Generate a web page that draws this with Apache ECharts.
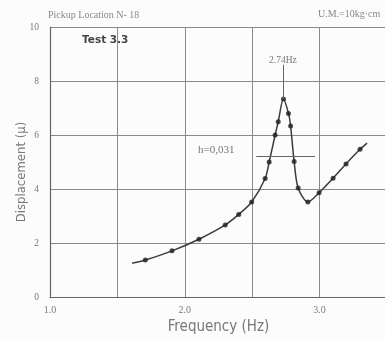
<!DOCTYPE html>
<html>
<head>
<meta charset="utf-8">
<script src="https://cdn.jsdelivr.net/npm/echarts@6/dist/echarts.min.js"></script>
<style>
html,body{margin:0;padding:0;background:#fcfcfc;}
#c{width:385px;height:339px;}
</style>
</head>
<body>
<div id="c"></div>
<script>
// Measured points (frequency Hz, displacement μ)
const freq = [1.707, 1.905, 2.105, 2.30, 2.40, 2.496, 2.596, 2.626, 2.670, 2.693, 2.732, 2.769, 2.785, 2.811, 2.841, 2.913, 2.996, 3.10, 3.196, 3.30];
const disp = [1.37, 1.71, 2.14, 2.67, 3.06, 3.52, 4.39, 5.00, 6.00, 6.49, 7.33, 6.80, 6.33, 5.02, 4.04, 3.52, 3.86, 4.40, 4.93, 5.47];
// Ends of the drawn curve
const curveStart = [1.609, 1.25];
const curveEnd = [3.352, 5.70];
// Annotations
const peakFreq = 2.732, peakVal = 7.33, peakLabelTop = 8.6;
const halfPowerY = 5.2, halfPowerX = [2.53, 2.966];
const yTicks = [0, 2, 4, 6, 8, 10];
const xTickLabels = ['1.0', '2.0', '3.0'];

const pts = freq.map((f, i) => [f, disp[i]]);
const curve = [curveStart].concat(pts, [curveEnd]);

const chart = echarts.init(document.getElementById('c'), null, {renderer: 'canvas'});
const grey = '#7a7a7a';
chart.setOption({
  backgroundColor: '#fcfcfc',
  animation: false,
  grid: {left: 50, top: 27, width: 337, height: 270, outerBoundsMode: 'none', containLabel: false},
  xAxis: {
    type: 'value', min: 1, max: 3.5, interval: 0.5,
    axisLine: {show: true, onZero: false, lineStyle: {color: '#666', width: 1.2}},
    axisTick: {show: false},
    splitLine: {show: true, lineStyle: {color: '#8a8a8a', width: 1}},
    axisLabel: {
      color: grey, fontSize: 10, fontFamily: 'Liberation Serif', margin: 8,
      formatter: v => { const s = v.toFixed(1); return xTickLabels.includes(s) ? s : ''; }
    },
    name: 'Frequency (Hz)', nameLocation: 'middle', nameGap: 23,
    nameTextStyle: {color: '#777', fontSize: 15, fontFamily: 'DejaVu Sans Condensed'}
  },
  yAxis: {
    type: 'value', min: 0, max: 10, interval: 2,
    axisLine: {show: true, lineStyle: {color: '#666', width: 1.2}},
    axisTick: {show: false},
    splitLine: {show: true, lineStyle: {color: '#8a8a8a', width: 1}},
    axisLabel: {color: grey, fontSize: 9.5, fontFamily: 'Liberation Serif', margin: 11,
      formatter: v => yTicks.includes(v) ? String(v) : ''}
  },
  series: [
    {
      type: 'line', data: curve, smooth: 0.3, showSymbol: false,
      lineStyle: {color: '#3c3c3c', width: 1.5}, z: 3,
      markLine: {
        silent: true, symbol: 'none',
        lineStyle: {color: '#666', width: 1, type: 'solid'},
        label: {show: false},
        data: [
          [{coord: [peakFreq, peakLabelTop]}, {coord: [peakFreq, peakVal]}],
          [{coord: [halfPowerX[0], halfPowerY]}, {coord: [halfPowerX[1], halfPowerY]}]
        ]
      }
    },
    {
      type: 'scatter', data: pts, symbol: 'circle', symbolSize: 5,
      itemStyle: {color: '#1e1e1e'}, z: 4
    }
  ],
  graphic: [
    {type: 'text', left: 48, top: 10, style: {text: 'Pickup Location N- 18', fill: '#888', font: '10px "Liberation Serif"'}},
    {type: 'text', left: 318, top: 9, style: {text: 'U.M.=10kg·cm', fill: '#888', font: '10px "Liberation Serif"'}},
    {type: 'text', left: 82, top: 35, style: {text: 'Test 3.3', fill: '#444', font: 'bold 10.5px "DejaVu Sans"'}},
    {type: 'text', left: 269, top: 55, style: {text: '2.74Hz', fill: '#777', font: '9.5px "Liberation Serif"'}},
    {type: 'text', left: 198, top: 145, style: {text: 'h=0,031', fill: '#777', font: '11px "Liberation Serif"'}},
    {type: 'text', x: 22, y: 172, rotation: Math.PI / 2,
     style: {text: 'Displacement (μ)', fill: '#777', font: '13px "DejaVu Sans Condensed"', align: 'center', verticalAlign: 'middle'}}
  ]
});
</script>
</body>
</html>
